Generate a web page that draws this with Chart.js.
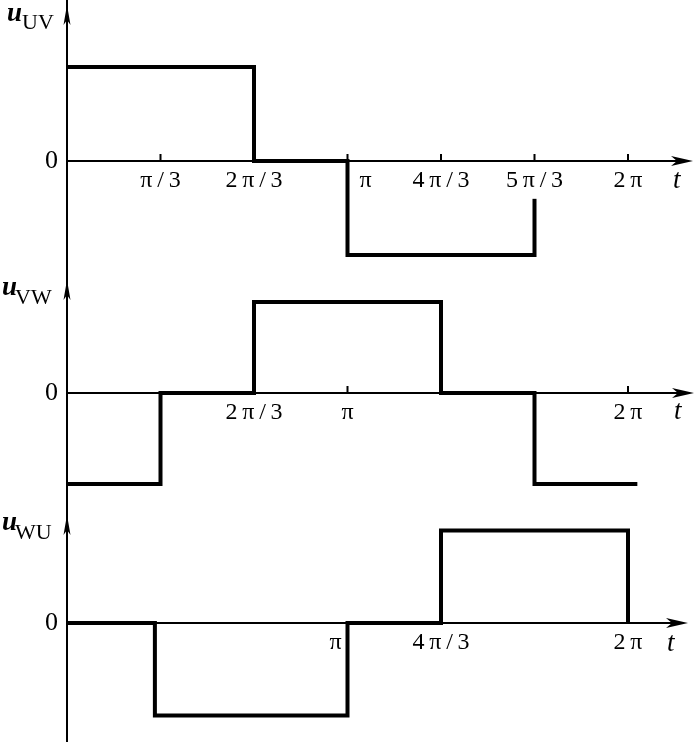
<!DOCTYPE html>
<html>
<head>
<meta charset="utf-8">
<script src="https://cdn.jsdelivr.net/npm/chart.js@4.4.1/dist/chart.umd.min.js"></script>
<style>
  html, body { margin: 0; padding: 0; background: #fff; }
  .panel { position: absolute; left: 0; width: 694px; }
</style>
</head>
<body>
<div class="panel" style="top:0px"><canvas id="chartUV" width="694" height="268"></canvas></div>
<div class="panel" style="top:268px"><canvas id="chartVW" width="694" height="235"></canvas></div>
<div class="panel" style="top:503px"><canvas id="chartWU" width="694" height="239"></canvas></div>
<script>
// t in units of pi/3, value in units of the dc voltage
const tUV = [0, 2, 3, 5];
const uUV = [1, 0, -1, 0];
const tVW = [0, 1, 2, 4, 5, 6.1];
const uVW = [-1, 0, 1, 0, -1, -1];
const tWU = [0, 0.94, 3, 4, 6];
const uWU = [0, -1, 0, 1, 0];

const ticksUV = [1, 2, 3, 4, 5, 6];
const labelsUV = ['π/3', '2π/3', 'π', '4π/3', '5π/3', '2π'];
const marksUV = [1, 3, 4, 5, 6];
const ticksVW = [2, 3, 6];
const labelsVW = ['2π/3', 'π', '2π'];
const marksVW = [3, 6];
const ticksWU = [3, 4, 6];
const labelsWU = ['π', '4π/3', '2π'];
const marksWU = [];

const serif = '"Liberation Serif", "DejaVu Serif", serif';
const PX_PER_STEP = 93.5;   // pixels per pi/3
const X0 = 67;              // pixel of t = 0

function spaced(s) {
  return s.split('').join('\u2009');
}

const axesDeco = {
  id: 'axesDeco',
  afterDraw(chart, args, o) {
    const ctx = chart.ctx;
    const xs = chart.scales.x, ys = chart.scales.y;
    const x0 = xs.getPixelForValue(0);
    const y0 = ys.getPixelForValue(0);
    ctx.save();
    ctx.strokeStyle = '#000';
    ctx.fillStyle = '#000';
    ctx.lineWidth = 2;
    ctx.beginPath();
    ctx.moveTo(x0, 0);
    ctx.lineTo(x0, chart.height);
    ctx.moveTo(x0, y0);
    ctx.lineTo(o.arrowRight - 6, y0);
    o.marks.forEach(v => {
      const x = xs.getPixelForValue(v);
      ctx.moveTo(x, y0);
      ctx.lineTo(x, y0 - 7);
    });
    ctx.stroke();
    // arrow heads
    ctx.beginPath();
    ctx.moveTo(x0, o.arrowTop);
    ctx.lineTo(x0 + 3.5, o.arrowTop + 20);
    ctx.lineTo(x0, o.arrowTop + 15);
    ctx.lineTo(x0 - 3.5, o.arrowTop + 20);
    ctx.closePath();
    ctx.fill();
    ctx.beginPath();
    ctx.moveTo(o.arrowRight, y0);
    ctx.lineTo(o.arrowRight - 22, y0 - 5);
    ctx.lineTo(o.arrowRight - 16, y0);
    ctx.lineTo(o.arrowRight - 22, y0 + 5);
    ctx.closePath();
    ctx.fill();
    // axis names
    ctx.textAlign = 'left';
    ctx.textBaseline = 'alphabetic';
    ctx.font = 'italic bold 27px ' + serif;
    ctx.fillText('u', o.uX, o.uBase);
    ctx.font = '22px ' + serif;
    ctx.fillText(o.sub, o.subX, o.subBase);
    ctx.font = 'italic 27px ' + serif;
    ctx.fillText('t', o.tX, o.tBase);
    ctx.restore();
  }
};

function makePanel(id, ts, us, tickVals, tickLabels, marks, lay) {
  const shift = lay.shift || {};
  new Chart(document.getElementById(id), {
    type: 'line',
    data: {
      datasets: [{
        data: ts.map((t, i) => ({x: t, y: us[i]})),
        stepped: true,
        borderColor: '#000',
        borderWidth: 4,
        pointRadius: 0,
        fill: false
      }]
    },
    options: {
      responsive: false,
      animation: false,
      devicePixelRatio: 1,
      layout: { padding: 0 },
      scales: {
        x: {
          type: 'linear',
          position: { y: 0 },
          min: 0,
          max: (694 - X0) / PX_PER_STEP,
          afterBuildTicks: s => { s.ticks = tickVals.map(v => ({value: v})); },
          afterFit: s => { s.paddingLeft = 0; s.paddingRight = 0; s.paddingTop = 0; s.paddingBottom = 0; },
          grid: { display: false, drawTicks: false },
          border: { display: false },
          ticks: {
            z: 1,
            autoSkip: false,
            maxRotation: 0,
            padding: 5,
            color: '#000',
            font: { family: serif, size: 24 },
            showLabelBackdrop: true,
            backdropPadding: { top: 5, bottom: 4, left: 2, right: 2 },
            backdropColor: c => lay.backdrop && lay.backdrop.includes(c.index) ? '#fff' : 'rgba(0,0,0,0)',
            callback: (v, i) => {
              const n = shift[i] || 0;
              const pad = '\u2002'.repeat(Math.abs(n));
              return n > 0 ? pad + spaced(tickLabels[i]) : spaced(tickLabels[i]) + pad;
            }
          }
        },
        y: {
          type: 'linear',
          position: 'left',
          min: lay.yMin,
          max: lay.yMax,
          afterBuildTicks: s => { s.ticks = [{value: 0}]; },
          afterFit: s => { s.width = X0; s.paddingTop = 0; s.paddingBottom = 0; },
          grid: { display: false, drawTicks: false },
          border: { display: false },
          ticks: {
            padding: 9,
            color: '#000',
            font: { family: serif, size: 26 },
            callback: () => '0'
          }
        }
      },
      plugins: {
        legend: { display: false },
        tooltip: { enabled: false },
        axesDeco: Object.assign({ marks: marks }, lay.deco)
      }
    },
    plugins: [axesDeco]
  });
}

makePanel('chartUV', tUV, uUV, ticksUV, labelsUV, marksUV, {
  yMin: -1.138, yMax: 1.713, shift: {2: 3}, backdrop: [4],
  deco: { sub: 'UV', arrowTop: 5, arrowRight: 693, uX: 7, uBase: 21, subX: 22, subBase: 29, tX: 673, tBase: 188 }
});
makePanel('chartVW', tVW, uVW, ticksVW, labelsVW, marksVW, {
  yMin: -1.209, yMax: 1.374,
  deco: { sub: 'VW', arrowTop: 12, arrowRight: 694, uX: 2, uBase: 27, subX: 15, subBase: 36, tX: 674, tBase: 151 }
});
makePanel('chartWU', tWU, uWU, ticksWU, labelsWU, marksWU, {
  yMin: -1.286, yMax: 1.297, shift: {0: -2},
  deco: { sub: 'WU', arrowTop: 12, arrowRight: 688, uX: 2, uBase: 27, subX: 15, subBase: 36, tX: 667, tBase: 148 }
});
</script>
</body>
</html>
